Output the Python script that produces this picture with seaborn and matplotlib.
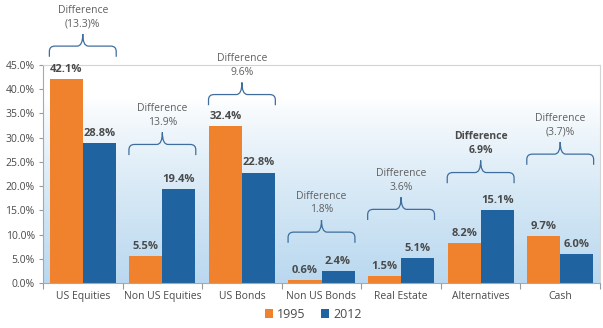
import numpy as np
import pandas as pd
import matplotlib
matplotlib.use("Agg")
import matplotlib.pyplot as plt
from matplotlib.path import Path
from matplotlib.patches import PathPatch, Patch
from matplotlib.colors import LinearSegmentedColormap
import seaborn as sns

# Asset allocation, 1995 vs 2012
categories = ["US Equities", "Non US Equities", "US Bonds", "Non US Bonds",
              "Real Estate", "Alternatives", "Cash"]
years = ["1995", "2012"]
alloc_1995 = [42.1, 5.5, 32.4, 0.6, 1.5, 8.2, 9.7]
alloc_2012 = [28.8, 19.4, 22.8, 2.4, 5.1, 15.1, 6.0]
diff_labels = ["(13.3)%", "13.9%", "9.6%", "1.8%", "3.6%", "6.9%", "(3.7)%"]
yticks = [0, 5, 10, 15, 20, 25, 30, 35, 40, 45]

# vertical level (in % units) where each difference brace starts
brace_base = [46.7, 26.4, 36.7, 8.3, 13.0, 20.6, 24.4]
bold_diff = [False, False, False, False, False, True, False]

ORANGE = "#F0822E"
BLUE = "#1F64A0"
TEXT = "#4a4a4a"
DIFF_TEXT = "#606060"
BRACE = "#3f6e9e"

df = pd.DataFrame({
    "category": categories * 2,
    "year": [years[0]] * len(categories) + [years[1]] * len(categories),
    "value": alloc_1995 + alloc_2012,
})

sns.set_theme(style="white")
plt.rcParams["font.family"] = ["Open Sans", "DejaVu Sans"]

fig = plt.figure(figsize=(6.03, 3.28), dpi=100)
ax = fig.add_axes([43 / 603, 45 / 328, 557 / 603, 218 / 328])

# soft white-to-blue gradient behind the bars
grad = np.linspace(0, 1, 256)
grad = np.clip((grad - 0.15) / 0.85, 0, 1) ** 0.85
cmap = LinearSegmentedColormap.from_list("bg", ["#ffffff", "#b9d8ef"])
ax.imshow(grad[:, None], aspect="auto", cmap=cmap, extent=[0, 1, 0, 1],
          transform=ax.transAxes, zorder=0, origin="upper")

sns.barplot(data=df, x="category", y="value", hue="year",
            palette=[ORANGE, BLUE], width=0.83, saturation=1, gap=0,
            ax=ax, legend=False, zorder=2, linewidth=0, edgecolor="none")

ax.set_xlim(-0.5, len(categories) - 0.5)
ax.set_ylim(0, 45)
ax.set_yticks(yticks)
ax.set_yticklabels([f"{t:.1f}%" for t in yticks], fontsize=7.5, color=TEXT)
ax.set_xlabel("")
ax.set_ylabel("")
ax.tick_params(axis="x", which="major", length=0, labelsize=7.5,
               labelcolor=TEXT, pad=6)
ax.set_xticks(np.arange(len(categories) + 1) - 0.5, minor=True)
ax.tick_params(axis="x", which="minor", length=4, color="#9a9a9a",
               width=0.8, direction="out", bottom=True)
ax.tick_params(axis="y", length=3, color="#9a9a9a", width=0.8,
               direction="out", left=True, pad=3)

for side in ["top", "right"]:
    ax.spines[side].set_color("#d4d4d4")
    ax.spines[side].set_linewidth(0.8)
for side in ["left", "bottom"]:
    ax.spines[side].set_color("#a8a8a8")
    ax.spines[side].set_linewidth(0.8)

# value labels on every bar
for cont, vals in zip(ax.containers, [alloc_1995, alloc_2012]):
    ax.bar_label(cont, labels=[f"{v:.1f}%" for v in vals], padding=3,
                 fontsize=8, fontweight="bold", color=TEXT)


def draw_brace(x_center, half, y0):
    h_end = 2.2
    h_peak = 2.5
    rx, ry = 0.07, 1.1
    yl = y0 + h_end
    left, right = x_center - half, x_center + half
    verts = [
        (left, y0), (left, yl - ry),
        (left, yl), (left + rx, yl),
        (x_center - rx, yl),
        (x_center, yl), (x_center, yl + h_peak),
        (x_center, yl), (x_center + rx, yl),
        (right - rx, yl),
        (right, yl), (right, yl - ry),
        (right, y0),
    ]
    codes = [Path.MOVETO, Path.LINETO,
             Path.CURVE3, Path.CURVE3,
             Path.LINETO,
             Path.CURVE3, Path.CURVE3,
             Path.CURVE3, Path.CURVE3,
             Path.LINETO,
             Path.CURVE3, Path.CURVE3,
             Path.LINETO]
    patch = PathPatch(Path(verts, codes), fill=False, edgecolor=BRACE,
                      linewidth=0.9, clip_on=False, zorder=4)
    ax.add_patch(patch)
    return yl + h_peak


for i, (base, lab, bold) in enumerate(zip(brace_base, diff_labels, bold_diff)):
    top = draw_brace(i, 0.42, base)
    weight = "bold" if bold else "normal"
    color = TEXT if bold else DIFF_TEXT
    ax.text(i, top + 2.1, lab, ha="center", va="center", fontsize=7.5,
            color=color, fontweight=weight, clip_on=False)
    ax.text(i, top + 4.9, "Difference", ha="center", va="center",
            fontsize=7.5, color=color, fontweight=weight, clip_on=False)

handles = [Patch(facecolor=ORANGE, edgecolor="none"),
           Patch(facecolor=BLUE, edgecolor="none")]
fig.legend(handles, years, loc="center", bbox_to_anchor=(313 / 603, 1 - 314 / 328),
           ncol=2, frameon=False, fontsize=9, handlelength=0.7,
           handleheight=0.7, handletextpad=0.3, columnspacing=1.2,
           labelcolor=TEXT)

fig.savefig("out.png", dpi=100)
